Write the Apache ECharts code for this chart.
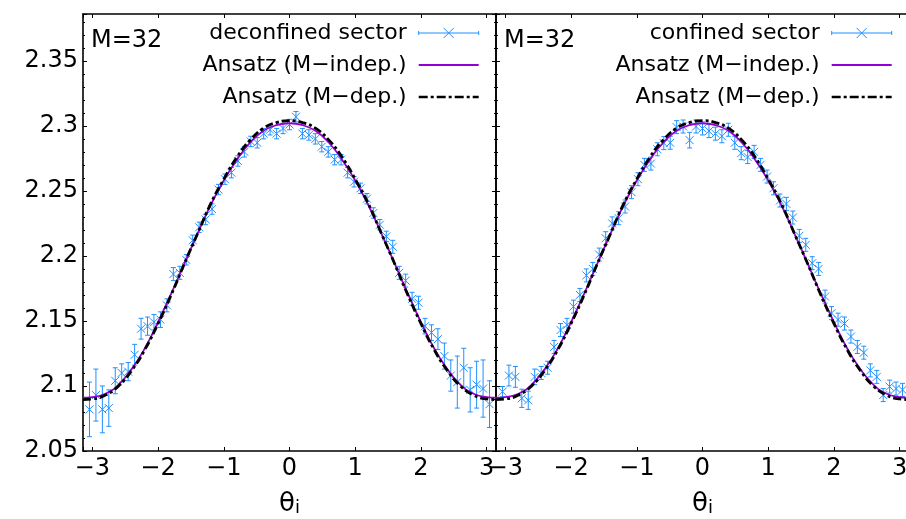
<!DOCTYPE html>
<html><head><meta charset="utf-8">
<script src="https://cdn.jsdelivr.net/npm/echarts@6/dist/echarts.min.js"></script>
<style>html,body{margin:0;padding:0;background:#fff}#c{width:906px;height:519px}</style>
</head><body><div id="c"></div>
<script>
// ---- data ----
const thetaPts = [-3.043,-2.945,-2.847,-2.749,-2.651,-2.553,-2.454,-2.356,-2.258,-2.160,-2.062,-1.963,-1.865,-1.767,-1.669,-1.571,-1.473,-1.374,-1.276,-1.178,-1.080,-0.982,-0.884,-0.785,-0.687,-0.589,-0.491,-0.393,-0.295,-0.196,-0.098,0,0.098,0.196,0.295,0.393,0.491,0.589,0.687,0.785,0.884,0.982,1.080,1.178,1.276,1.374,1.473,1.571,1.669,1.767,1.865,1.963,2.062,2.160,2.258,2.356,2.454,2.553,2.651,2.749,2.847,2.945,3.043];

const deconfVals = [2.082,2.093,2.082,2.083,2.104,2.110,2.111,2.124,2.144,2.146,2.149,2.151,2.162,2.186,2.187,2.197,2.212,2.222,2.228,2.236,2.251,2.259,2.264,2.273,2.280,2.288,2.287,2.294,2.297,2.294,2.298,2.301,2.307,2.294,2.293,2.290,2.284,2.280,2.274,2.274,2.264,2.257,2.252,2.244,2.233,2.224,2.215,2.207,2.187,2.181,2.167,2.164,2.146,2.141,2.136,2.123,2.108,2.103,2.114,2.097,2.101,2.098,2.086];
const deconfErrs = [0.021,0.020,0.018,0.014,0.010,0.007,0.007,0.008,0.008,0.007,0.006,0.006,0.005,0.005,0.005,0.004,0.004,0.004,0.004,0.004,0.004,0.004,0.004,0.004,0.004,0.004,0.004,0.004,0.004,0.004,0.004,0.004,0.004,0.004,0.004,0.004,0.004,0.004,0.004,0.004,0.004,0.004,0.004,0.004,0.004,0.004,0.004,0.005,0.005,0.005,0.005,0.005,0.006,0.006,0.008,0.010,0.012,0.020,0.015,0.017,0.018,0.022,0.018,0.029].slice(0,63);

const confVals = [2.0956,2.108,2.107,2.0905,2.089,2.107,2.110,2.114,2.130,2.143,2.147,2.161,2.170,2.185,2.190,2.201,2.2136,2.225,2.229,2.238,2.249,2.259,2.270,2.271,2.282,2.2867,2.287,2.299,2.2995,2.289,2.2995,2.298,2.296,2.294,2.292,2.297,2.287,2.279,2.276,2.280,2.270,2.261,2.252,2.2426,2.240,2.2295,2.2154,2.2085,2.1944,2.190,2.1687,2.156,2.151,2.148,2.138,2.130,2.1256,2.112,2.107,2.093,2.0995,2.098,2.097];
const confErrs = [0.004,0.008,0.008,0.007,0.007,0.006,0.005,0.005,0.005,0.005,0.005,0.005,0.005,0.005,0.005,0.005,0.005,0.005,0.005,0.005,0.005,0.005,0.005,0.005,0.005,0.005,0.005,0.005,0.005,0.006,0.005,0.005,0.005,0.005,0.005,0.005,0.005,0.005,0.005,0.005,0.005,0.005,0.005,0.005,0.005,0.005,0.005,0.005,0.005,0.005,0.005,0.005,0.005,0.005,0.005,0.005,0.005,0.005,0.005,0.005,0.005,0.005,0.005];

const curveTheta = [-3.1416,-3.0,-2.8,-2.6,-2.4,-2.2,-2.0,-1.8,-1.6,-1.4,-1.2,-1.0,-0.8,-0.6,-0.4,-0.2,0,0.2,0.4,0.6,0.8,1.0,1.2,1.4,1.6,1.8,2.0,2.2,2.4,2.6,2.8,3.0,3.1416];
const ansatzIndep = [2.091,2.0915,2.094,2.101,2.113,2.129,2.149,2.171,2.194,2.217,2.239,2.258,2.274,2.287,2.296,2.3005,2.302,2.3005,2.296,2.287,2.274,2.258,2.239,2.217,2.194,2.171,2.149,2.129,2.113,2.101,2.094,2.0915,2.091];
const ansatzDep = [2.0895,2.090,2.093,2.100,2.112,2.128,2.148,2.170,2.194,2.217,2.240,2.259,2.276,2.289,2.298,2.3025,2.304,2.3025,2.298,2.289,2.276,2.259,2.240,2.217,2.194,2.170,2.148,2.128,2.112,2.100,2.093,2.090,2.0895];

const panelNames = ['deconfined sector', 'confined sector'];
const fitNames = ['Ansatz (M\u2212indep.)', 'Ansatz (M\u2212dep.)'];
const annotation = 'M=32';

// ---- styles ----
const FONT = 'DejaVu Sans';
const BLUE = '#1e90ff';
const PURPLE = '#9400d3';
const BLACK = '#000';

const chart = echarts.init(document.getElementById('c'), null, {renderer: 'canvas'});

const pts = (vals, errs) => thetaPts.map((t, i) => [t, vals[i], errs[i]]);
const curve = vals => curveTheta.map((t, i) => [t, vals[i]]);

function errRender(params, api) {
  const x = api.value(0), y = api.value(1), e = api.value(2);
  const c = api.coord([x, y]);
  const top = api.coord([x, y + e]);
  const bot = api.coord([x, y - e]);
  const s = {stroke: BLUE, lineWidth: 1, fill: null};
  const m = 4, cap = 2.5;
  return {type: 'group', children: [
    {type: 'line', shape: {x1: c[0], y1: top[1], x2: c[0], y2: bot[1]}, style: s},
    {type: 'line', shape: {x1: c[0]-cap, y1: top[1], x2: c[0]+cap, y2: top[1]}, style: s},
    {type: 'line', shape: {x1: c[0]-cap, y1: bot[1], x2: c[0]+cap, y2: bot[1]}, style: s},
    {type: 'line', shape: {x1: c[0]-m, y1: c[1]-m, x2: c[0]+m, y2: c[1]+m}, style: s},
    {type: 'line', shape: {x1: c[0]-m, y1: c[1]+m, x2: c[0]+m, y2: c[1]-m}, style: s}
  ]};
}

const xMinus = v => (Math.abs(v - Math.round(v)) < 1e-6) ? String(Math.round(v)).replace('-', '\u2212') : '';
const axLine = {show: true, onZero: false, lineStyle: {color: BLACK, width: 1.6}};

function xBottom(gi, named) {
  const ax = {
    gridIndex: gi, type: 'value', position: 'bottom', min: -Math.PI, max: Math.PI,
    minInterval: 1, maxInterval: 1,
    axisLine: axLine,
    axisTick: {show: true, inside: true, length: 4, lineStyle: {color: BLACK, width: 1}},
    axisLabel: {show: true, fontSize: 24, fontFamily: FONT, color: BLACK, margin: 6, formatter: xMinus},
    splitLine: {show: false}
  };
  if (named) {
    ax.name = '{a|\u03b8}{b|i}';
    ax.nameLocation = 'middle';
    ax.nameGap = 40;
    ax.nameTextStyle = {rich: {
      a: {fontSize: 26, fontFamily: FONT, color: BLACK, lineHeight: 26, verticalAlign: 'top', padding: [0, 0, 18, 0]},
      b: {fontSize: 18, fontFamily: FONT, color: BLACK, lineHeight: 18, verticalAlign: 'bottom'}
    }};
  }
  return ax;
}
function xTop(gi) {
  return {
    gridIndex: gi, type: 'value', position: 'top', min: -Math.PI, max: Math.PI,
    minInterval: 1, maxInterval: 1,
    axisLine: axLine,
    axisTick: {show: true, inside: true, length: 4, lineStyle: {color: BLACK, width: 1}},
    axisLabel: {show: false}, splitLine: {show: false}
  };
}
function yAx(gi, pos, labels) {
  return {
    gridIndex: gi, type: 'value', position: pos, min: 2.05, max: 2.386, interval: 0.05,
    axisLine: axLine,
    axisTick: {show: true, inside: true, length: 4, lineStyle: {color: BLACK, width: 1}},
    minorTick: {show: true, splitNumber: 5, length: 2, lineStyle: {color: BLACK, width: 1}},
    axisLabel: {show: labels, fontSize: 24, fontFamily: FONT, color: BLACK, margin: 5,
      formatter: v => v > 2.36 ? '' : String(+v.toFixed(2))},
    splitLine: {show: false}, minorSplitLine: {show: false}
  };
}

const errIcon = 'path://M0,5L60,5M0,3L0,7M60,3L60,7M25,0L35,10M25,10L35,0';
const solidIcon = 'path://M0,0L0,0M0,5L60,5M60,10L60,10';
const dashIcon = 'path://M0,0L0,0M0,5L9,5M12,5L15,5M18,5L27,5M30,5L33,5M36,5L45,5M48,5L51,5M54,5L60,5M60,10L60,10';
function legend(gi, right) {
  return {
    orient: 'vertical', align: 'right', right: right, top: 22, padding: 0,
    itemWidth: 60, itemHeight: 10, itemGap: 10, selectedMode: false,
    textStyle: {fontSize: 22, fontFamily: FONT, color: BLACK, lineHeight: 22},
    formatter: n => n + ' ',
    data: [
      {name: panelNames[gi], icon: errIcon, itemStyle: {color: 'rgba(0,0,0,0)', borderColor: BLUE, borderWidth: 1}},
      {name: fitNames[0], icon: solidIcon, itemStyle: {color: 'rgba(0,0,0,0)', borderColor: PURPLE, borderWidth: 1.8}},
      {name: fitNames[1], icon: dashIcon, itemStyle: {color: 'rgba(0,0,0,0)', borderColor: BLACK, borderWidth: 2.6}}
    ]
  };
}

const series = [];
[[deconfVals, deconfErrs], [confVals, confErrs]].forEach((d, gi) => {
  const xi = gi * 2, yi = gi === 0 ? 0 : 2;
  series.push({
    name: panelNames[gi], type: 'custom', xAxisIndex: xi, yAxisIndex: yi,
    renderItem: errRender, data: pts(d[0], d[1]), encode: {x: 0, y: 1},
    itemStyle: {color: BLUE}, clip: true, z: 2
  });
  series.push({
    name: fitNames[0], type: 'line', xAxisIndex: xi, yAxisIndex: yi, data: curve(ansatzIndep),
    smooth: true, symbol: 'none', showSymbol: false, lineStyle: {color: PURPLE, width: 1.8},
    itemStyle: {color: PURPLE}, z: 3
  });
  series.push({
    name: fitNames[1], type: 'line', xAxisIndex: xi, yAxisIndex: yi, data: curve(ansatzDep),
    smooth: true, symbol: 'none', showSymbol: false, lineStyle: {color: BLACK, width: 2.8, type: [8, 3, 3, 3]},
    itemStyle: {color: BLACK}, z: 4
  });
});

chart.setOption({
  animation: false,
  backgroundColor: '#fff',
  grid: [
    {left: 83, top: 14, width: 413, height: 437, containLabel: false, outerBoundsMode: 'none'},
    {left: 496, top: 14, width: 413, height: 437, containLabel: false, outerBoundsMode: 'none'}
  ],
  xAxis: [xBottom(0, true), xTop(0), xBottom(1, true), xTop(1)],
  yAxis: [yAx(0, 'left', true), yAx(0, 'right', false), yAx(1, 'left', false)],
  title: [
    {text: annotation, left: 91, top: 29, padding: 0, textStyle: {fontSize: 24, fontWeight: 'normal', fontFamily: FONT, color: BLACK}},
    {text: annotation, left: 504, top: 29, padding: 0, textStyle: {fontSize: 24, fontWeight: 'normal', fontFamily: FONT, color: BLACK}}
  ],
  legend: [legend(0, 426), legend(1, 13)],
  series: series
});
</script></body></html>
